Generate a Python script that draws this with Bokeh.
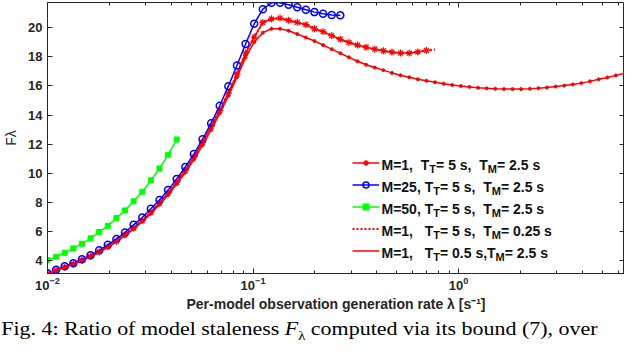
from bokeh.plotting import figure
from bokeh.layouts import column
from bokeh.models import (Range1d, FixedTicker, LogAxis, LinearAxis, Legend, LegendItem,
                          Label, CustomJSTickFormatter, Div)
from bokeh.embed import file_html
from bokeh.resources import INLINE

# ---------------- data ----------------
LAMBDA = [0.01, 0.01101, 0.01213, 0.01336, 0.01471, 0.01620, 0.01784, 0.01965, 0.02164, 0.02383,
          0.02624, 0.02891, 0.03184, 0.03506, 0.03861, 0.04252, 0.04683, 0.05157, 0.05680, 0.06255,
          0.06887, 0.07584, 0.08353, 0.09199, 0.1013, 0.1116, 0.1229, 0.1353, 0.1490, 0.1641,
          0.1807, 0.1990, 0.2192, 0.2414, 0.2659, 0.2928, 0.3225, 0.3551, 0.3911, 0.4307,
          0.4742, 0.5224, 0.5753, 0.6336, 0.6977, 0.7684, 0.8463, 0.9320, 1.026, 1.130,
          1.245, 1.371, 1.509, 1.662, 1.831, 2.016, 2.221, 2.446, 2.693, 2.966,
          3.266, 3.597, 3.961, 4.362, 4.805, 5.292, 5.828, 6.418]

F_M1_TT5_TM25 = [3.14, 3.34, 3.56, 3.78, 4.04, 4.31, 4.61, 4.96, 5.35, 5.78,
                 6.25, 6.76, 7.33, 7.96, 8.64, 9.40, 10.22, 11.13, 12.13, 13.22,
                 14.30, 15.50, 16.80, 18.25, 19.35, 20.35, 20.60, 20.65, 20.50, 20.36,
                 20.20, 19.92, 19.72, 19.45, 19.20, 18.98, 18.80, 18.65, 18.52, 18.41,
                 18.31, 18.25, 18.25, 18.33, 18.43]
F_M25 = [3.14, 3.38, 3.62, 3.84, 4.11, 4.39, 4.72, 5.10, 5.50, 5.94,
         6.47, 6.97, 7.57, 8.17, 8.85, 9.62, 10.44, 11.32, 12.34, 13.44,
         14.64, 15.98, 17.40, 18.87, 20.26, 21.26, 21.70, 21.70, 21.57, 21.40,
         21.22, 21.06, 20.95, 20.86, 20.84]
F_M50 = [4.06, 4.28, 4.55, 4.85, 5.17, 5.54, 5.98, 6.40, 6.93, 7.46,
         8.08, 8.74, 9.52, 10.33, 11.28, 12.32]
F_M1_TM025 = [3.14, 3.34, 3.56, 3.79, 4.05, 4.32, 4.62, 4.97, 5.36, 5.79,
              6.26, 6.78, 7.35, 7.98, 8.66, 9.42, 10.25, 11.16, 12.16, 13.25,
              14.33, 15.53, 16.83, 18.25, 19.35, 20.33, 20.58, 20.62, 20.48, 20.33,
              20.17, 19.90, 19.69, 19.43, 19.18, 18.97, 18.79, 18.64, 18.51, 18.40,
              18.31, 18.25, 18.26, 18.34, 18.43, 18.50]
F_M1_TT05 = [3.14, 3.33, 3.55, 3.77, 4.02, 4.28, 4.58, 4.92, 5.30, 5.72,
             6.18, 6.68, 7.24, 7.85, 8.52, 9.26, 10.06, 10.95, 11.92, 12.98,
             14.12, 15.30, 16.60, 17.95, 19.00, 19.65, 19.92, 19.92, 19.78, 19.56,
             19.32, 19.08, 18.80, 18.52, 18.24, 17.96, 17.69, 17.45, 17.26, 17.08,
             16.89, 16.73, 16.59, 16.46, 16.35, 16.25, 16.15, 16.06, 15.99, 15.93,
             15.87, 15.83, 15.80, 15.78, 15.78, 15.78, 15.80, 15.84, 15.89, 15.95,
             16.02, 16.10, 16.19, 16.31, 16.45, 16.58, 16.72, 16.85]

X_TICKS = [0.01, 0.1, 1]
X_MINOR = [0.02, 0.03, 0.04, 0.05, 0.06, 0.07, 0.08, 0.09,
           0.2, 0.3, 0.4, 0.5, 0.6, 0.7, 0.8, 0.9, 2, 3, 4, 5, 6]
Y_TICKS = [4, 6, 8, 10, 12, 14, 16, 18, 20]

LEGEND_ROWS = [
    [("M=1,  T", 0), ("T", 1), ("= 5 s,  T", 0), ("M", 1), ("= 2.5 s", 0)],
    [("M=25, T", 0), ("T", 1), ("= 5 s,  T", 0), ("M", 1), ("= 2.5 s", 0)],
    [("M=50, T", 0), ("T", 1), ("= 5 s,  T", 0), ("M", 1), ("= 2.5 s", 0)],
    [("M=1,   T", 0), ("T", 1), ("= 5 s,  T", 0), ("M", 1), ("= 0.25 s", 0)],
    [("M=1,   T", 0), ("T", 1), ("= 0.5 s,T", 0), ("M", 1), ("= 2.5 s", 0)],
]
CAPTION = ("Fig. 4: Ratio of model staleness <i>F</i><sub style='font-size:12px;line-height:0'>\u03bb</sub> "
           "computed via its bound (7), over")

RED, BLUE, GREEN = "#FF0000", "#0000FF", "#00FF00"
AX = "#262626"

# ---------------- figure ----------------
FIG_H = 319
BORDER_B = 46
p = figure(width=624, height=FIG_H, x_axis_type="log",
           x_range=Range1d(LAMBDA[0], LAMBDA[-1]), y_range=Range1d(3.13, 21.72),
           output_backend="svg", toolbar_location=None,
           min_border_left=42, min_border_right=0, min_border_top=2, min_border_bottom=BORDER_B)
p.grid.visible = False
p.outline_line_color = AX
p.outline_line_width = 1
p.background_fill_color = "white"
p.border_fill_color = "white"

xa = p.xaxis[0]
xa.ticker = FixedTicker(ticks=X_TICKS, minor_ticks=X_MINOR)
ya = p.yaxis[0]
ya.ticker = FixedTicker(ticks=Y_TICKS, minor_ticks=[])
for ax in (xa, ya):
    ax.major_tick_in = 5
    ax.major_tick_out = 0
    ax.minor_tick_in = 3
    ax.minor_tick_out = 0
    ax.axis_line_color = AX
    ax.major_tick_line_color = AX
    ax.minor_tick_line_color = AX
    ax.major_label_text_font = "Liberation Sans"
    ax.major_label_text_font_style = "bold"
    ax.major_label_text_font_size = "13px"
    ax.major_label_text_color = AX
    ax.axis_label_text_color = AX
    ax.axis_label_text_font = "Liberation Sans"
    ax.axis_label_text_font_size = "14px"
ya.minor_tick_line_color = None
xa.major_label_standoff = 3
ya.major_label_standoff = 5
xa.axis_label = "Per-model observation generation rate \u03bb [s\u207b\u00b9]"
xa.axis_label_text_font_style = "bold"
xa.axis_label_standoff = 3
ya.axis_label = "F\u03bb"
ya.axis_label_text_font_style = "normal"
ya.axis_label_standoff = 6

empty = CustomJSTickFormatter(code="return ''")
top = LogAxis(ticker=FixedTicker(ticks=X_TICKS, minor_ticks=X_MINOR), formatter=empty,
              major_tick_in=5, major_tick_out=0, minor_tick_in=3, minor_tick_out=0,
              major_tick_line_color=AX, minor_tick_line_color=AX, axis_line_color=None,
              major_label_text_font_size="1px", major_label_standoff=0)
right = LinearAxis(ticker=FixedTicker(ticks=Y_TICKS, minor_ticks=[]), formatter=empty,
                   major_tick_in=5, major_tick_out=0, minor_tick_line_color=None,
                   major_tick_line_color=AX, axis_line_color=None,
                   major_label_text_font_size="1px", major_label_standoff=0)
p.add_layout(top, "above")
p.add_layout(right, "right")

# ---------------- series ----------------
n1 = len(F_M1_TT5_TM25)
l1 = p.line(LAMBDA[:n1], F_M1_TT5_TM25, line_color=RED, line_width=1.5)
m1 = p.scatter(LAMBDA[:n1], F_M1_TT5_TM25, marker="asterisk", size=7, line_color=RED, line_width=1.2)

n2 = len(F_M25)
l2 = p.line(LAMBDA[:n2], F_M25, line_color=BLUE, line_width=1.5)
m2 = p.scatter(LAMBDA[:n2], F_M25, marker="circle", size=7, line_color=BLUE, line_width=1.5,
               fill_alpha=0)

n3 = len(F_M50)
l3 = p.line(LAMBDA[:n3], F_M50, line_color=GREEN, line_width=1.5)
m3 = p.scatter(LAMBDA[:n3], F_M50, marker="square", size=5, line_color=GREEN, fill_color=GREEN)

n4 = len(F_M1_TM025)
l4 = p.line(LAMBDA[:n4], F_M1_TM025, line_color=RED, line_width=2, line_dash="2 2")

n5 = len(F_M1_TT05)
l5 = p.line(LAMBDA[:n5], F_M1_TT05, line_color=RED, line_width=1.5)
m5 = p.scatter(LAMBDA[:n5], F_M1_TT05, marker="circle", size=3, line_color=RED, fill_color=RED)

# frame bottom, in page pixels, used to place the legend and its texts
FB = 8 + FIG_H - BORDER_B
items = [LegendItem(label=" ", renderers=[l1, m1]),
         LegendItem(label=" ", renderers=[l2, m2]),
         LegendItem(label=" ", renderers=[l3, m3]),
         LegendItem(label=" ", renderers=[l4]),
         LegendItem(label=" ", renderers=[l5])]
legend = Legend(items=items, location=(305, FB - 269.5), padding=0, margin=0, spacing=0,
                glyph_width=27, glyph_height=15, label_height=22, label_width=0,
                label_standoff=0, label_text_font_size="1px",
                border_line_alpha=0, background_fill_alpha=0)
p.add_layout(legend)

# ---------------- legend texts (with subscripts) ----------------
ARIAL_B = {"M": 833, "=": 584, ",": 278, " ": 278, "T": 611, "s": 556, ".": 278}
for d in "0123456789":
    ARIAL_B[d] = 556
MAIN_FS, SUB_FS, SUB_DROP = 14, 11, 4.5


def add_text(txt, x, y, fs, font="Liberation Sans", style="bold", color="#111111"):
    p.add_layout(Label(x=x, y=y, x_units="screen", y_units="screen", text=txt,
                       text_font=font, text_font_style=style, text_font_size=f"{fs}px",
                       text_color=color, text_baseline="alphabetic", text_align="left"))


row_centers = [167, 189, 211, 233, 255]
for segs, rc in zip(LEGEND_ROWS, row_centers):
    yb0 = FB - (rc + 5)
    x = 334.0
    for txt, sub in segs:
        fs = SUB_FS if sub else MAIN_FS
        yb = yb0 - SUB_DROP if sub else yb0
        word, wx = "", x
        for ch in txt:
            if ch == " ":
                if word:
                    add_text(word, wx, yb, fs)
                    word = ""
                x += ARIAL_B[" "] * fs / 1000
            else:
                if not word:
                    wx = x
                word += ch
                x += ARIAL_B[ch] * fs / 1000
        if word:
            add_text(word, wx, yb, fs)

# ---------------- caption ----------------
cap = Div(text=CAPTION, width=624, height=20, margin=(0, 0, 0, 0),
          styles={"font-family": "Liberation Serif", "font-size": "18px", "line-height": "20px",
                  "white-space": "nowrap", "color": "black",
                  "transform": "scaleX(1.22)", "transform-origin": "left top",
                  "padding-left": "1px"})

layout = column(p, cap, spacing=0)
open("out.html", "w").write(file_html(layout, INLINE))
